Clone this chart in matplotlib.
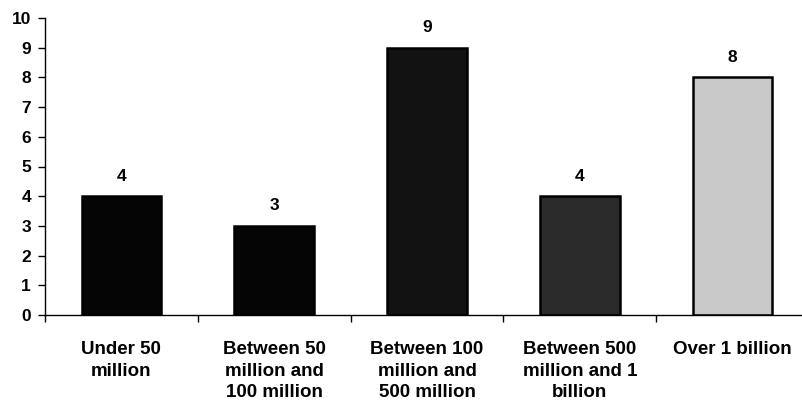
import numpy as np
import matplotlib.pyplot as plt

plt.rcParams['font.family'] = ['Liberation Sans', 'DejaVu Sans']

categories = ["Under 50\nmillion", "Between 50\nmillion and\n100 million",
              "Between 100\nmillion and\n500 million", "Between 500\nmillion and 1\nbillion",
              "Over 1 billion"]
counts = [4, 3, 9, 4, 8]
bar_colors = ["#050505", "#050505", "#121212", "#2a2a2a", "#c9c9c9"]

fig = plt.figure(figsize=(8.02, 4.04), dpi=100)
ax = fig.add_axes([45 / 802, 89 / 404, 764 / 802, 297 / 404])

x = np.arange(len(categories))
bars = ax.bar(x, counts, width=0.52, color=bar_colors, edgecolor="black", linewidth=1.8)

for xi, v in zip(x, counts):
    ax.annotate(str(v), (xi, v), xytext=(0, 9), textcoords="offset points",
                ha="center", va="bottom", fontsize=12.5, fontweight="bold")

ax.set_xlim(-0.5, len(categories) - 0.5)
ax.set_ylim(0, 10)
ax.set_yticks(range(0, 11))
ax.tick_params(axis="y", direction="out", length=5, width=1, pad=5, labelsize=12.5)
for lbl in ax.get_yticklabels():
    lbl.set_fontweight("bold")

ax.set_xticks(x)
ax.set_xticklabels(categories, fontsize=13.5, fontweight="bold", linespacing=1.35)
ax.set_xticks(np.arange(len(categories) + 1) - 0.5, minor=True)
ax.tick_params(axis="x", which="major", length=0, pad=19)
ax.tick_params(axis="x", which="minor", direction="out", length=5, width=1)

ax.spines["top"].set_visible(False)
ax.spines["right"].set_visible(False)
ax.spines["left"].set_linewidth(1)
ax.spines["bottom"].set_linewidth(1)

fig.savefig("out.png", dpi=100)
